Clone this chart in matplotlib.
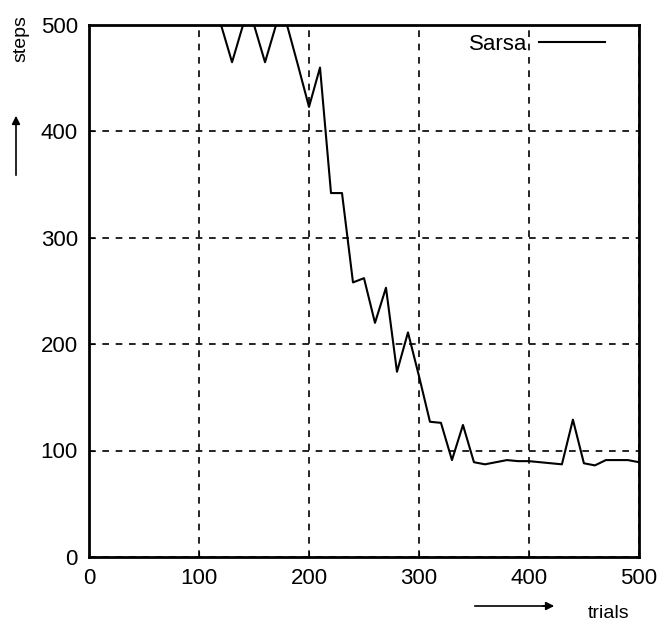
import matplotlib.pyplot as plt
import numpy as np

plt.rcParams['font.family'] = ['Liberation Sans', 'DejaVu Sans']

trials = np.arange(0, 510, 10)
steps = [500, 500, 500, 500, 500, 500, 500, 500, 500, 500,
         500, 500, 500, 465, 500, 500, 465, 500, 500, 462,
         423, 460, 342, 342, 258, 262, 220, 253, 174, 211,
         170, 127, 126, 91, 124, 89, 87, 89, 91, 90,
         90, 89, 88, 87, 129, 88, 86, 91, 91, 91, 89]

x_ticks = [0, 100, 200, 300, 400, 500]
y_ticks = [0, 100, 200, 300, 400, 500]

fig = plt.figure(figsize=(6.6, 6.25), dpi=100)
ax = fig.add_axes([0.135, 0.109, 0.833, 0.851])

ax.plot(trials, steps, color='black', linewidth=1.5, label='Sarsa')
ax.set_xlim(0, 500)
ax.set_ylim(0, 500)
ax.set_xticks(x_ticks)
ax.set_yticks(y_ticks)
ax.tick_params(direction='in', length=4, labelsize=16, pad=8)
ax.grid(True, color='black', linestyle=(0, (4, 4)), linewidth=1.2)
for s in ax.spines.values():
    s.set_linewidth(2)

leg = ax.legend(loc='upper right', bbox_to_anchor=(0.955, 1.0), frameon=False,
                fontsize=16, markerfirst=False, handlelength=3.0,
                handletextpad=0.5, borderaxespad=0)

# axis labels with arrows
fig.text(609 / 660, 1 - 614 / 625, 'trials', fontsize=14, ha='center', va='center')
fig.add_artist(plt.Line2D([475 / 660, 550 / 660], [1 - 606 / 625] * 2, color='black', lw=1.2))
ax.annotate('', xy=(557 / 660, 1 - 606 / 625), xytext=(540 / 660, 1 - 606 / 625),
            xycoords='figure fraction',
            arrowprops=dict(arrowstyle='-|>', color='black', lw=1.2, mutation_scale=12))
fig.text(21 / 660, 1 - 39 / 625, 'steps', fontsize=14, rotation=90, ha='center', va='center')
ax.annotate('', xy=(16 / 660, 1 - 113 / 625), xytext=(16 / 660, 1 - 178 / 625),
            xycoords='figure fraction',
            arrowprops=dict(arrowstyle='-|>', color='black', lw=1.2, mutation_scale=12))

fig.savefig('out.png', dpi=100)
